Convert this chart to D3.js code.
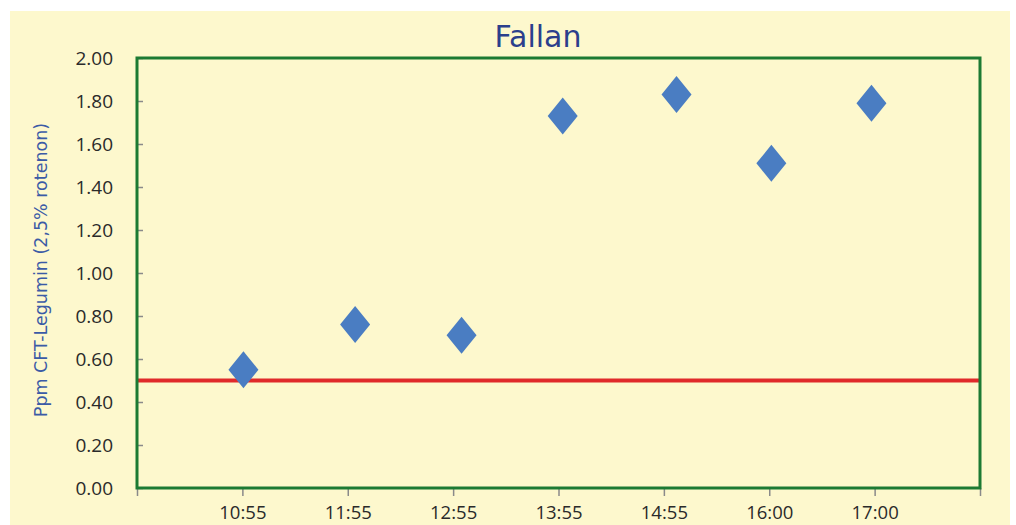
<!DOCTYPE html>
<html>
<head>
<meta charset="utf-8">
<script src="https://cdn.jsdelivr.net/npm/d3@7"></script>
<style>
  html, body { margin: 0; padding: 0; background: #ffffff; }
  svg { display: block; }
</style>
</head>
<body>
<svg id="chart" width="1016" height="525"></svg>
<script>
// Sampling times (axis labels) and measured concentrations
const timeLabels = ["10:55", "11:55", "12:55", "13:55", "14:55", "16:00", "17:00"];
// Position of each sample along the time axis (slot units, label i sits at i+1)
const samplePos = [1.01, 2.07, 3.08, 4.04, 5.12, 6.02, 6.97];
const ppmValues = [0.55, 0.76, 0.71, 1.73, 1.83, 1.51, 1.79];
// Threshold level
const limitValue = 0.5;
const yTicks = [0, 0.2, 0.4, 0.6, 0.8, 1.0, 1.2, 1.4, 1.6, 1.8, 2.0];

const svg = d3.select("#chart");
const W = 1016, H = 525;
const plot = { left: 137, top: 58, right: 980, bottom: 488 };

// Chart background panel
svg.append("rect")
  .attr("x", 10).attr("y", 11)
  .attr("width", 1000).attr("height", H - 11)
  .attr("fill", "#fdf8cd");

const x = d3.scaleLinear().domain([0, 8]).range([plot.left, plot.right]);
const y = d3.scaleLinear().domain([0, 2]).range([plot.bottom, plot.top]);

// Title
svg.append("text")
  .attr("x", 538).attr("y", 47)
  .attr("text-anchor", "middle")
  .attr("font-family", "'DejaVu Sans', Verdana, sans-serif")
  .attr("font-size", 30)
  .attr("fill", "#2b3f8c")
  .text("Fallan");

// Y axis label
svg.append("text")
  .attr("transform", `translate(47, ${(plot.top + plot.bottom) / 2 - 3}) rotate(-90)`)
  .attr("text-anchor", "middle")
  .attr("font-family", "'DejaVu Sans', Verdana, sans-serif")
  .attr("font-size", 17.5)
  .attr("fill", "#3b5ba6")
  .text("Ppm CFT-Legumin (2,5% rotenon)");

// Y axis: ticks inside the plot, labels on the left
const yAxis = d3.axisLeft(y)
  .tickValues(yTicks)
  .tickFormat(d3.format(".2f"))
  .tickSizeInner(-6)
  .tickSizeOuter(0)
  .tickPadding(24);
const gy = svg.append("g").attr("transform", `translate(${plot.left},0)`).call(yAxis);
gy.select(".domain").remove();
gy.selectAll(".tick line").attr("stroke", "#8a8a8a").attr("stroke-width", 1.5);
gy.selectAll(".tick text")
  .attr("font-family", "'Open Sans', sans-serif")
  .attr("font-size", 19)
  .attr("fill", "#2a2a2a");

// X axis: ticks at every slot, labels for the sample times
const xAxis = d3.axisBottom(x)
  .tickValues(d3.range(0, 9))
  .tickFormat(d => (d >= 1 && d <= timeLabels.length) ? timeLabels[d - 1] : "")
  .tickSizeInner(8)
  .tickSizeOuter(0)
  .tickPadding(14);
const gx = svg.append("g").attr("transform", `translate(0,${plot.bottom})`).call(xAxis);
gx.select(".domain").remove();
gx.selectAll(".tick line").attr("stroke", "#8a8a8a").attr("stroke-width", 1.5);
gx.selectAll(".tick text")
  .attr("font-family", "'Open Sans', sans-serif")
  .attr("font-size", 18.5)
  .attr("fill", "#2a2a2a")
  .attr("dy", null)
  .attr("y", 519 - plot.bottom);

// Threshold line
svg.append("line")
  .attr("x1", x(0)).attr("x2", x(8))
  .attr("y1", y(limitValue)).attr("y2", y(limitValue))
  .attr("stroke", "#e02a2a")
  .attr("stroke-width", 4);

// Plot frame
svg.append("rect")
  .attr("x", plot.left).attr("y", plot.top)
  .attr("width", plot.right - plot.left)
  .attr("height", plot.bottom - plot.top)
  .attr("fill", "none")
  .attr("stroke", "#1c7a33")
  .attr("stroke-width", 3);

// Diamond markers
const hw = 15, hh = 18.5;
const diamond = `M0,${-hh}L${hw},0L0,${hh}L${-hw},0Z`;
svg.append("g").selectAll("path")
  .data(ppmValues)
  .join("path")
  .attr("transform", (d, i) => `translate(${x(samplePos[i])},${y(d)})`)
  .attr("d", diamond)
  .attr("fill", "#4a7dc2");
</script>
</body>
</html>
